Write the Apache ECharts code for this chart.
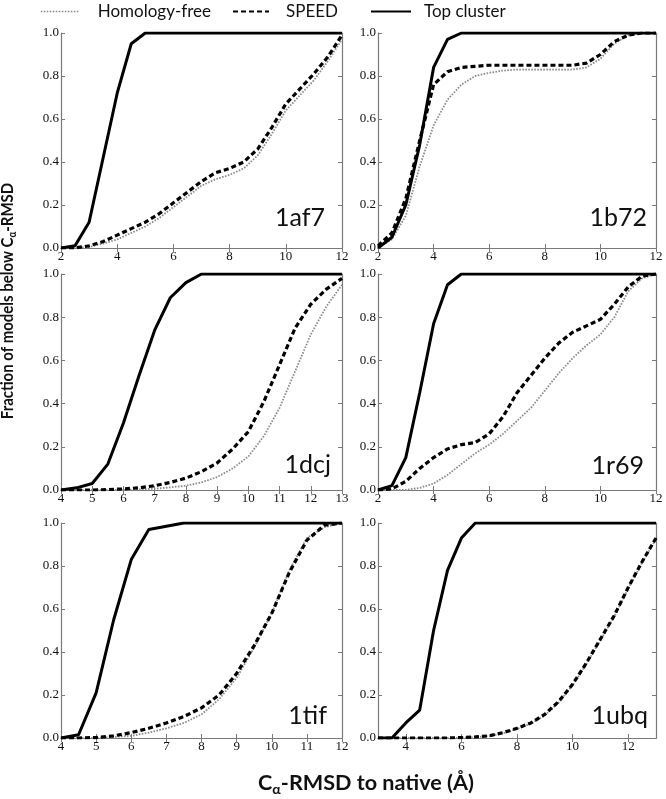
<!DOCTYPE html>
<html>
<head>
<meta charset="utf-8">
<script src="https://cdn.jsdelivr.net/npm/echarts@6/dist/echarts.min.js"></script>
<style>html,body{margin:0;padding:0;background:#fff;}#c{width:666px;height:799px;}</style>
</head>
<body>
<div id="c"></div>
<script>
// ---------- data ----------
const names = ['1af7', '1b72', '1dcj', '1r69', '1tif', '1ubq'];

const x_1af7 = [2,2.5,3,3.5,4,4.5,5,5.5,6,6.5,7,7.5,8,8.5,9,9.5,10,10.5,11,11.5,12];
const top_1af7 = [0,0.01,0.12,0.42,0.72,0.95,1,1,1,1,1,1,1,1,1,1,1,1,1,1,1];
const speed_1af7 = [0,0,0.01,0.03,0.06,0.09,0.12,0.16,0.21,0.26,0.31,0.35,0.37,0.40,0.46,0.56,0.67,0.74,0.81,0.89,0.99];
const free_1af7 = [0,0,0.005,0.02,0.04,0.07,0.10,0.14,0.19,0.24,0.29,0.32,0.34,0.37,0.43,0.53,0.64,0.71,0.78,0.87,0.97];

const x_1b72 = [2,2.5,3,3.5,4,4.5,5,5.5,6,6.5,7,7.5,8,8.5,9,9.5,10,10.5,11,11.5,12];
const top_1b72 = [0,0.05,0.2,0.48,0.84,0.97,1,1,1,1,1,1,1,1,1,1,1,1,1,1,1];
const speed_1b72 = [0.01,0.07,0.23,0.5,0.76,0.82,0.84,0.845,0.85,0.85,0.85,0.85,0.85,0.85,0.85,0.86,0.9,0.96,0.99,1,1];
const free_1b72 = [0,0.04,0.15,0.38,0.57,0.69,0.76,0.8,0.815,0.825,0.83,0.83,0.83,0.83,0.83,0.84,0.88,0.95,0.99,1,1];

const x_1dcj = [4,4.5,5,5.5,6,6.5,7,7.5,8,8.5,9,9.5,10,10.5,11,11.5,12,12.5,13];
const top_1dcj = [0,0.01,0.03,0.12,0.31,0.53,0.74,0.89,0.96,1,1,1,1,1,1,1,1,1,1];
const speed_1dcj = [0,0,0,0.002,0.005,0.01,0.02,0.035,0.055,0.085,0.125,0.19,0.27,0.41,0.58,0.75,0.86,0.93,0.98];
const free_1dcj = [0,0,0,0,0,0.003,0.006,0.012,0.02,0.035,0.06,0.1,0.155,0.25,0.38,0.55,0.72,0.85,0.95];

const x_1r69 = [2,2.5,3,3.5,4,4.5,5,5.5,6,6.5,7,7.5,8,8.5,9,9.5,10,10.5,11,11.5,12];
const top_1r69 = [0,0.02,0.15,0.45,0.77,0.95,1,1,1,1,1,1,1,1,1,1,1,1,1,1,1];
const speed_1r69 = [0,0.005,0.04,0.1,0.15,0.19,0.21,0.22,0.26,0.34,0.45,0.53,0.61,0.68,0.73,0.76,0.79,0.86,0.94,0.99,1];
const free_1r69 = [0,0,0,0.01,0.03,0.07,0.12,0.17,0.21,0.26,0.32,0.38,0.46,0.54,0.61,0.67,0.72,0.8,0.92,0.98,1];

const x_1tif = [4,4.5,5,5.5,6,6.5,7,7.5,8,8.5,9,9.5,10,10.5,11,11.5,12];
const top_1tif = [0,0.015,0.21,0.55,0.83,0.97,0.985,1,1,1,1,1,1,1,1,1,1];
const speed_1tif = [0,0,0.002,0.01,0.025,0.045,0.07,0.1,0.14,0.2,0.3,0.43,0.58,0.77,0.92,0.99,1];
const free_1tif = [0,0,0,0.005,0.01,0.025,0.045,0.07,0.11,0.18,0.28,0.42,0.58,0.78,0.93,0.98,1];

const x_1ubq = [3,3.5,4,4.5,5,5.5,6,6.5,7,7.5,8,8.5,9,9.5,10,10.5,11,11.5,12,12.5,13];
const top_1ubq = [0,0,0.07,0.13,0.5,0.78,0.93,1,1,1,1,1,1,1,1,1,1,1,1,1,1];
const speed_1ubq = [0,0,0,0,0,0,0.002,0.005,0.01,0.025,0.045,0.07,0.11,0.17,0.25,0.35,0.46,0.57,0.7,0.82,0.93];
const free_1ubq = [0,0,0,0,0,0,0.001,0.004,0.009,0.022,0.042,0.067,0.105,0.165,0.245,0.345,0.455,0.565,0.695,0.815,0.925];

// axis ranges and tick labels
const xMin = [2, 2, 4, 2, 4, 3];
const xMax = [12, 12, 13, 12, 12, 13];
const xTicks_1af7 = [2,4,6,8,10,12];
const xTicks_1b72 = [2,4,6,8,10,12];
const xTicks_1dcj = [4,5,6,7,8,9,10,11,12,13];
const xTicks_1r69 = [2,4,6,8,10,12];
const xTicks_1tif = [4,5,6,7,8,9,10,11,12];
const xTicks_1ubq = [4,6,8,10,12];
const yTicks = [0, 0.2, 0.4, 0.6, 0.8, 1.0];

const seriesNames = ['Homology-free', 'SPEED', 'Top cluster'];

const panels = [
  {x: x_1af7, free: free_1af7, speed: speed_1af7, top: top_1af7, ticks: xTicks_1af7},
  {x: x_1b72, free: free_1b72, speed: speed_1b72, top: top_1b72, ticks: xTicks_1b72},
  {x: x_1dcj, free: free_1dcj, speed: speed_1dcj, top: top_1dcj, ticks: xTicks_1dcj},
  {x: x_1r69, free: free_1r69, speed: speed_1r69, top: top_1r69, ticks: xTicks_1r69},
  {x: x_1tif, free: free_1tif, speed: speed_1tif, top: top_1tif, ticks: xTicks_1tif},
  {x: x_1ubq, free: free_1ubq, speed: speed_1ubq, top: top_1ubq, ticks: xTicks_1ubq}
];

// ---------- layout ----------
const grids = [
  {left: 61, top: 33, width: 281, height: 215},
  {left: 378, top: 33, width: 278, height: 215},
  {left: 61, top: 274, width: 281, height: 216},
  {left: 378, top: 274, width: 278, height: 216},
  {left: 61, top: 523, width: 281, height: 215},
  {left: 378, top: 523, width: 278, height: 215}
];
const labelOffsets = [[17, 18], [9, 18], [11, 13], [12, 12], [15, 10], [8, 10]];

const frameColor = '#7a7a7a';
const tickFont = {fontFamily: 'Liberation Serif', fontSize: 13, color: '#111'};

const xAxes = [], yAxes = [], series = [], graphics = [];
const styles = [
  {color: '#8c8c8c', width: 1.8, type: [1.6, 1.4]},
  {color: '#000', width: 3.2, type: [5, 3]},
  {color: '#000', width: 3, type: 'solid'}
];

panels.forEach((p, i) => {
  xAxes.push({
    type: 'value', gridIndex: i, min: xMin[i], max: xMax[i], position: 'bottom',
    axisLine: {show: true, lineStyle: {color: frameColor, width: 1.2}},
    axisTick: {show: true, inside: true, length: 4, customValues: p.ticks, lineStyle: {color: frameColor}},
    axisLabel: {show: true, customValues: p.ticks, margin: 2, ...tickFont},
    splitLine: {show: false}
  });
  xAxes.push({
    type: 'value', gridIndex: i, min: xMin[i], max: xMax[i], position: 'top',
    axisLine: {show: true, lineStyle: {color: frameColor, width: 1.2}},
    axisTick: {show: true, inside: true, length: 4, customValues: p.ticks, lineStyle: {color: frameColor}},
    axisLabel: {show: false},
    splitLine: {show: false}
  });
  yAxes.push({
    type: 'value', gridIndex: i, min: 0, max: 1, interval: 0.2, position: 'left',
    axisLine: {show: true, lineStyle: {color: frameColor, width: 1.2}},
    axisTick: {show: true, inside: true, length: 4, lineStyle: {color: frameColor}},
    axisLabel: {show: true, margin: 2, formatter: v => v.toFixed(1), ...tickFont},
    splitLine: {show: false}
  });
  yAxes.push({
    type: 'value', gridIndex: i, min: 0, max: 1, interval: 0.2, position: 'right',
    axisLine: {show: true, lineStyle: {color: frameColor, width: 1.2}},
    axisTick: {show: true, inside: true, length: 4, lineStyle: {color: frameColor}},
    axisLabel: {show: false},
    splitLine: {show: false}
  });
  const ys = [p.free, p.speed, p.top];
  ys.forEach((arr, k) => {
    series.push({
      name: seriesNames[k], type: 'line', xAxisIndex: 2 * i, yAxisIndex: 2 * i,
      data: p.x.map((xv, j) => [xv, arr[j]]),
      symbol: 'none', showSymbol: false, silent: true, animation: false,
      lineStyle: styles[k], itemStyle: {color: styles[k].color},
      z: 2 + k, clip: true
    });
  });
  const g = grids[i];
  graphics.push({
    type: 'text', silent: true,
    x: g.left + g.width - labelOffsets[i][0],
    y: g.top + g.height - labelOffsets[i][1],
    style: {text: names[i], fontFamily: 'Lato', fontSize: 25, fill: '#111', align: 'right', verticalAlign: 'bottom'}
  });
});

// axis titles
graphics.push({
  type: 'text', silent: true, x: 8, y: 301, rotation: Math.PI / 2, scaleX: 0.88,
  style: {
    text: 'Fraction of models below C{s|α}-RMSD',
    fontFamily: 'Lato', fontSize: 17, fontWeight: 'bold', fill: '#111',
    align: 'center', verticalAlign: 'middle',
    rich: {s: {fontFamily: 'Lato', fontSize: 11, fontWeight: 'bold', fill: '#111', padding: [9, 0, 0, 0]}}
  }
});
graphics.push({
  type: 'text', silent: true, x: 366, y: 784, scaleX: 1.08,
  style: {
    text: 'C{s|α}-RMSD to native (Å)',
    fontFamily: 'Lato', fontSize: 20, fontWeight: 'bold', fill: '#111',
    align: 'center', verticalAlign: 'middle',
    rich: {s: {fontFamily: 'Lato', fontSize: 13, fontWeight: 'bold', fill: '#111', padding: [11, 0, 0, 0]}}
  }
});

const legendBase = {
  top: 3, padding: 0, itemHeight: 16, orient: 'horizontal', selectedMode: false,
  itemStyle: {opacity: 0, borderWidth: 0},
  textStyle: {fontFamily: 'Lato', fontSize: 17, color: '#111'}
};

const option = {
  backgroundColor: '#fff',
  animation: false,
  legend: [
    Object.assign({}, legendBase, {left: 40, itemWidth: 38, data: ['Homology-free'],
      textStyle: Object.assign({}, legendBase.textStyle, {padding: [0, 0, 0, 14]}), lineStyle: {width: 1.5}}),
    Object.assign({}, legendBase, {left: 232, itemWidth: 36, data: ['SPEED'],
      textStyle: Object.assign({}, legendBase.textStyle, {padding: [0, 0, 0, 12]}), lineStyle: {width: 2}}),
    Object.assign({}, legendBase, {left: 370, itemWidth: 40, data: ['Top cluster'],
      textStyle: Object.assign({}, legendBase.textStyle, {padding: [0, 0, 0, 8]}), lineStyle: {width: 2}})
  ],
  grid: grids.map(g => Object.assign({show: false, containLabel: false}, g)),
  xAxis: xAxes,
  yAxis: yAxes,
  series: series,
  graphic: graphics
};

const chart = echarts.init(document.getElementById('c'), null, {renderer: 'canvas'});
chart.setOption(option);
</script>
</body>
</html>
